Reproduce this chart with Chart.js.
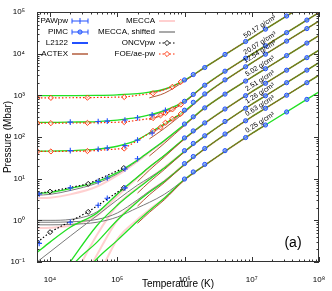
<!DOCTYPE html>
<html lang="en">
<head>
<meta charset="UTF-8">
<title>Carbon isochores</title>
<script src="https://cdn.jsdelivr.net/npm/chart.js"></script>
<style>
  html, body { margin: 0; padding: 0; background: #fff; }
  #wrap { width: 332px; height: 291px; }
</style>
</head>
<body>
<div id="wrap"><canvas id="eos" width="332" height="291"></canvas></div>
<script>
// isochore densities (g/cm3), high to low
const densities = ["50.17", "20.07", "12.54", "5.02", "2.51", "1.26", "0.63", "0.25"];

// temperature grid (K) used by the model curves
const tGrid = [6.4e3, 1e4, 2e4, 5e4, 1e5, 2e5, 3e5, 5e5, 1e6, 2e6, 1e7, 1.6e7, 1e8];

// pressures in Mbar, one row per density, columns follow tGrid
const l2122P = [
  [980, 980, 985, 1000, 1030, 1100, 1200, 1400, 2300, 4700, 24000, 38800, 243000],
  [225, 225, 228, 235, 255, 295, 340, 430, 720, 1750, 9600, 15500, 97000],
  [46, 46, 47, 51, 60, 85, 125, 205, 420, 1050, 6000, 9700, 60700],
  [4.4, 4.7, 5.8, 8.5, 14, 28, 45, 82, 200, 500, 2720, 4350, 27200],
  [0.17, 0.3, 0.68, 1.5, 4.3, 11, 19, 36, 92, 215, 1215, 1944, 12150],
  [0.005, 0.02, 0.1, 0.75, 2.3, 5.8, 9.5, 18, 45, 105, 610, 976, 6100],
  [0.002, 0.008, 0.07, 0.3, 1.0, 2.8, 4.7, 8.5, 22, 52, 305, 488, 3050],
  [0.0005, 0.002, 0.02, 0.12, 0.33, 0.95, 1.7, 3.4, 9.5, 21, 121, 194, 1210]
];
const actexP = [
  [null, null, null, null, null, null, 870, 1120, 2200, 4650, 24000, 38800, 243000],
  [null, null, null, null, null, null, 260, 350, 690, 1720, 9600, 15500, 97000],
  [null, null, null, null, null, null, 90, 160, 390, 1030, 6000, 9700, 60700],
  [null, null, null, null, null, null, 35, 70, 190, 495, 2720, 4350, 27200],
  [null, null, null, null, null, 8.5, 16, 33, 90, 213, 1215, 1944, 12150],
  [null, null, null, null, null, 4.5, 8.3, 16.5, 44, 104, 610, 976, 6100],
  [null, null, null, null, null, 2.2, 4.1, 8, 21.5, 52, 305, 488, 3050],
  [null, null, null, null, null, 0.85, 1.55, 3.1, 9.3, 21, 121, 194, null]
];
const meccaP = [
  [null, null, null, null, null, null, 1150, 1380, 2280, 4700, 24000, 38800, 243000],
  [null, null, null, null, null, null, 320, 420, 710, 1740, 9600, 15500, 97000],
  [null, null, null, null, null, null, 115, 195, 410, 1040, 6000, 9700, 60700],
  [3.4, 3.5, 4.2, 6.5, 12, 26, 43, 78, 195, 500, 2720, 4350, 27200],
  [0.65, 0.66, 0.75, 1.3, 3.8, 10.5, 18.5, 35, 91, 215, 1215, 1944, 12150],
  [0.001, 0.004, 0.03, 0.45, 2.3, 6.0, 10, 18.5, 45, 105, 610, 976, 6100],
  [0.0005, 0.002, 0.01, 0.15, 1.0, 2.9, 4.9, 8.8, 22, 52, 305, 488, 3050],
  [0.0002, 0.0005, 0.003, 0.04, 0.35, 1.05, 1.8, 3.4, 9.5, 21, 121, 194, null]
];
const meccaShiftP = [
  [null, null, null, null, null, null, 1150, 1380, 2280, 4700, 24000, 38800, 243000],
  [null, null, null, null, null, null, 320, 420, 710, 1740, 9600, 15500, 97000],
  [null, null, null, null, null, null, 115, 195, 410, 1040, 6000, 9700, 60700],
  [4.0, 4.2, 5.2, 7.8, 13, 27, 44, 80, 198, 500, 2720, 4350, 27200],
  [1.0, 1.0, 1.05, 1.6, 4.2, 11, 19, 36, 92, 215, 1215, 1944, 12150],
  [0.1, 0.175, 0.42, 1.3, 3.1, 7.0, 10.5, 18, 45, 105, 610, 976, 6100],
  [0.9, 0.9, 0.92, 1.05, 1.5, 3.1, 5.0, 8.8, 22, 52, 305, 488, 3050],
  [0.78, 0.78, 0.8, 0.9, 1.2, 2.0, 2.7, 4.2, 9.5, 21, 121, 194, null]
];

// PIMC points
const pimcT = [1.0e6, 1.35e6, 2.0e6, 4.0e6, 8.1e6, 1.6e7, 3.3e7, 6.6e7];
const pimcP = [
  [2340, 3150, 4650, 9600, 19600, 38800, 80100, 160200],
  [720, 1050, 1750, 3800, 7800, 15500, 32000, 64000],
  [440, 680, 1080, 2350, 4850, 9700, 20000, 40000],
  [205, 305, 500, 1070, 2200, 4350, 9000, 17950],
  [95, 140, 218, 470, 980, 1944, 4010, 8020],
  [47, 70, 107, 236, 490, 976, 2013, 4026],
  [23, 34, 53, 118, 245, 488, 1006, 2013],
  [9.8, 14.5, 22, 47, 97, 194, 399, 799]
];

// PAWpw points (rows: 20.07, 12.54, 5.02, 2.51)
const pawT = [6.9e3, 2e4, 5.2e4, 7.1e4, 1.3e5, 2e5, 3.3e5, 5.2e5];
const pawP = [
  [null, 228, 236, 240, 255, 290, 340, 440],
  [null, 47, 51, 54, 62, 84, 125, null],
  [4.3, 6.0, 8.5, 10.4, 17, 30, null, null],
  [0.28, 0.9, 2.3, 3.4, 6.0, null, null, null]
];

// ONCVpw points (rows: 5.02, 2.51)
const oncvT = [6.5e3, 1e4, 3.7e4, 1.25e5];
const oncvP = [
  [4.4, 4.9, 7.5, 18],
  [0.3, 0.52, 1.6, 6.0]
];

// FOE/ae-pw points (rows: 50.17, 20.07, 12.54)
const foeT = [6.5e3, 1.03e4, 3.6e4, 1.27e5, 3.4e5, 4.4e5, 5.2e5, 6.6e5, 8.8e5];
const foeP = [
  [870, 870, 880, 910, 1120, null, null, 1600, 2100],
  [215, 215, 218, 228, 285, 330, 375, 460, 600],
  [45, 45, 46, 53, 140, 170, 220, 275, 360]
];

// axes
const xRange = [6.4e3, 1e8];
const yRange = [0.1, 1e5];

const fontFam = "'Liberation Sans', Arial, Helvetica, sans-serif";
const colors = {
  blue: '#2350ff',
  green: '#22e022',
  actex: '#a8441f',
  mecca: 'rgba(255,170,170,0.55)',
  shifted: '#7a7a7a',
  oncv: '#000000',
  foe: '#ff2a00'
};

function pts(ts, ps) {
  const out = [];
  ts.forEach((t, i) => { if (ps[i] != null) out.push({ x: t, y: ps[i] }); });
  return out;
}

function logTicks(min, max) {
  const out = [];
  for (let e = Math.floor(Math.log10(min)); e <= Math.ceil(Math.log10(max)); e++) {
    for (let m = 1; m <= 9; m++) {
      const v = m * Math.pow(10, e);
      if (v >= min * 0.9999 && v <= max * 1.0001) out.push(v);
    }
  }
  return out;
}

const supMap = { '-': '⁻', '0': '⁰', '1': '¹', '2': '²', '3': '³', '4': '⁴', '5': '⁵', '6': '⁶', '7': '⁷', '8': '⁸', '9': '⁹' };
function decadeLabel(v) {
  const e = Math.log10(v);
  if (Math.abs(e - Math.round(e)) > 1e-6) return '';
  return '10' + String(Math.round(e)).split('').map(c => supMap[c]).join('');
}

const datasets = [];
const curveBase = { showLine: true, pointRadius: 0, cubicInterpolationMode: 'monotone', fill: false };
densities.forEach((d, k) => {
  datasets.push({ ...curveBase, label: 'MECCA', data: pts(tGrid, meccaP[k]), borderColor: colors.mecca, borderWidth: 2, order: 9 });
  datasets.push({ ...curveBase, label: 'MECCA, shifted', data: pts(tGrid, meccaShiftP[k]), borderColor: colors.shifted, borderWidth: 1, order: 8 });
  datasets.push({ ...curveBase, label: 'L2122', data: pts(tGrid, l2122P[k]), borderColor: colors.green, borderWidth: 1.3, order: 7 });
  datasets.push({ ...curveBase, label: 'ACTEX', data: pts(tGrid, actexP[k]), borderColor: colors.actex, borderWidth: 0.9, order: 6 });
  datasets.push({ label: 'PIMC', data: pts(pimcT, pimcP[k]), showLine: false, pointStyle: 'circle', pointRadius: 2.1,
    pointBorderColor: colors.blue, pointBackgroundColor: 'rgba(100,150,255,0.7)', pointBorderWidth: 1, order: 1 });
});
pawP.forEach(row => {
  datasets.push({ label: 'PAWpw', data: pts(pawT, row), showLine: false, pointStyle: 'cross', pointRadius: 2.8,
    pointBorderColor: colors.blue, pointBorderWidth: 1.1, order: 2 });
});
oncvP.forEach(row => {
  datasets.push({ label: 'ONCVpw', data: pts(oncvT, row), showLine: true, borderColor: colors.oncv, borderWidth: 1.2,
    borderDash: [1.5, 2], pointStyle: 'rectRot', pointRadius: 2.5, pointBorderColor: colors.oncv,
    pointBackgroundColor: 'rgba(255,255,255,0.6)', pointBorderWidth: 0.9, order: 4 });
});
foeP.forEach(row => {
  datasets.push({ label: 'FOE/ae-pw', data: pts(foeT, row), showLine: true, borderColor: colors.foe, borderWidth: 1.2,
    borderDash: [1.5, 2], pointStyle: 'rectRot', pointRadius: 2.6, pointBorderColor: colors.foe,
    pointBackgroundColor: 'rgba(255,255,255,0.5)', pointBorderWidth: 0.9, order: 3 });
});

// inward ticks on all four sides plus the frame
const frameTicks = {
  id: 'frameTicks',
  afterDraw(chart) {
    const { ctx, chartArea: a, scales: { x, y } } = chart;
    ctx.save();
    ctx.strokeStyle = '#333';
    ctx.lineWidth = 1;
    ctx.strokeRect(a.left + 0.5, a.top + 0.5, a.right - a.left - 1, a.bottom - a.top - 1);
    ctx.beginPath();
    x.ticks.forEach(t => {
      const px = Math.round(x.getPixelForValue(t.value)) + 0.5;
      const len = decadeLabel(t.value) ? 5 : 2.5;
      ctx.moveTo(px, a.bottom); ctx.lineTo(px, a.bottom - len);
      ctx.moveTo(px, a.top); ctx.lineTo(px, a.top + len);
    });
    y.ticks.forEach(t => {
      const py = Math.round(y.getPixelForValue(t.value)) + 0.5;
      const len = decadeLabel(t.value) ? 5 : 2.5;
      ctx.moveTo(a.left, py); ctx.lineTo(a.left + len, py);
      ctx.moveTo(a.right, py); ctx.lineTo(a.right - len, py);
    });
    ctx.stroke();
    ctx.restore();
  }
};

// density labels written along each isochore
const isoLabels = {
  id: 'isoLabels',
  afterDatasetsDraw(chart) {
    const { ctx, scales: { x, y } } = chart;
    const tA = 1e7, tB = 1.6e7, tLab = 1.45e7;
    const iA = tGrid.indexOf(tA), iB = tGrid.indexOf(tB);
    ctx.save();
    ctx.font = '7px ' + fontFam;
    ctx.fillStyle = '#000';
    ctx.textAlign = 'center';
    ctx.textBaseline = 'bottom';
    densities.forEach((d, k) => {
      const pA = l2122P[k][iA], pB = l2122P[k][iB];
      const f = Math.log(tLab / tA) / Math.log(tB / tA);
      const pLab = Math.exp(Math.log(pA) + f * Math.log(pB / pA));
      const x0 = x.getPixelForValue(tLab), y0 = y.getPixelForValue(pLab);
      const ang = Math.atan2(y.getPixelForValue(pB) - y.getPixelForValue(pA), x.getPixelForValue(tB) - x.getPixelForValue(tA));
      ctx.save();
      ctx.translate(x0, y0);
      ctx.rotate(ang);
      ctx.fillText(d + ' g/cm³', 0, -1.5);
      ctx.restore();
    });
    ctx.font = '14px ' + fontFam;
    ctx.textBaseline = 'middle';
    const a = chart.chartArea;
    ctx.fillText('(a)', a.right - 26, a.bottom - 19);
    ctx.restore();
  }
};

// legend in two columns, text right-aligned before the sample
const legendRows = [
  ['PAWpw', 'paw'], ['PIMC', 'pimc'], ['L2122', 'l2122'], ['ACTEX', 'actex'],
  ['MECCA', 'mecca'], ['MECCA, shifted', 'shifted'], ['ONCVpw', 'oncv'], ['FOE/ae-pw', 'foe']
];
const boxLegend = {
  id: 'boxLegend',
  afterDraw(chart) {
    const { ctx, chartArea: a } = chart;
    ctx.save();
    ctx.font = '8px ' + fontFam;
    ctx.textBaseline = 'middle';
    ctx.textAlign = 'right';
    legendRows.forEach(([text, kind], i) => {
      const col = Math.floor(i / 4), row = i % 4;
      const textRight = a.left + (col === 0 ? 31 : 118);
      const cy = a.top + 9 + row * 11;
      const s0 = textRight + 4, s1 = textRight + 20, mid = (s0 + s1) / 2;
      ctx.fillStyle = '#000';
      ctx.fillText(text, textRight, cy);
      ctx.setLineDash([]);
      ctx.beginPath();
      if (kind === 'paw' || kind === 'pimc') {
        ctx.strokeStyle = colors.blue; ctx.lineWidth = 1;
        ctx.moveTo(s0, cy); ctx.lineTo(s1, cy);
        ctx.moveTo(s0, cy - 2.5); ctx.lineTo(s0, cy + 2.5);
        ctx.moveTo(s1, cy - 2.5); ctx.lineTo(s1, cy + 2.5);
        if (kind === 'paw') { ctx.moveTo(mid, cy - 3); ctx.lineTo(mid, cy + 3); }
        ctx.stroke();
        if (kind === 'pimc') {
          ctx.beginPath(); ctx.arc(mid, cy, 2.1, 0, Math.PI * 2);
          ctx.fillStyle = 'rgba(100,150,255,0.7)'; ctx.fill(); ctx.stroke();
        }
      } else if (kind === 'oncv' || kind === 'foe') {
        ctx.strokeStyle = colors[kind]; ctx.lineWidth = 1.2;
        ctx.setLineDash([1.5, 2]);
        ctx.moveTo(s0, cy); ctx.lineTo(s1, cy); ctx.stroke();
        ctx.setLineDash([]);
        ctx.beginPath(); ctx.lineWidth = 0.9;
        ctx.moveTo(mid, cy - 2.6); ctx.lineTo(mid + 2.6, cy); ctx.lineTo(mid, cy + 2.6); ctx.lineTo(mid - 2.6, cy); ctx.closePath();
        ctx.fillStyle = '#fff'; ctx.fill(); ctx.stroke();
      } else {
        const w = { l2122: 2, actex: 1.3, mecca: 2, shifted: 1.3 }[kind];
        ctx.strokeStyle = colors[kind]; ctx.lineWidth = w;
        ctx.moveTo(s0, cy); ctx.lineTo(s1, cy); ctx.stroke();
      }
    });
    ctx.restore();
  }
};

new Chart(document.getElementById('eos'), {
  type: 'scatter',
  data: { datasets },
  options: {
    responsive: false,
    animation: false,
    events: [],
    layout: { padding: { left: 0, right: 13, top: 12, bottom: 0 } },
    plugins: { legend: { display: false }, tooltip: { enabled: false } },
    scales: {
      x: {
        type: 'logarithmic', min: xRange[0], max: xRange[1],
        grid: { display: false }, border: { display: false },
        afterBuildTicks: s => { s.ticks = logTicks(xRange[0], xRange[1]).map(v => ({ value: v })); },
        afterFit: s => { s.height = 29; },
        ticks: { autoSkip: false, maxRotation: 0, padding: 5, color: '#000', font: { family: fontFam, size: 8 }, callback: v => decadeLabel(v) },
        title: { display: true, text: 'Temperature (K)', color: '#000', font: { family: fontFam, size: 10 }, padding: { top: 0, bottom: 1 } }
      },
      y: {
        type: 'logarithmic', min: yRange[0], max: yRange[1],
        grid: { display: false }, border: { display: false },
        afterBuildTicks: s => { s.ticks = logTicks(yRange[0], yRange[1]).map(v => ({ value: v })); },
        afterFit: s => { s.width = 37; },
        ticks: { autoSkip: false, padding: 4, color: '#000', font: { family: fontFam, size: 8 }, callback: v => decadeLabel(v) },
        title: { display: true, text: 'Pressure (Mbar)', color: '#000', font: { family: fontFam, size: 10 }, padding: { top: 2, bottom: 0 } }
      }
    }
  },
  plugins: [frameTicks, isoLabels, boxLegend]
});
</script>
</body>
</html>
